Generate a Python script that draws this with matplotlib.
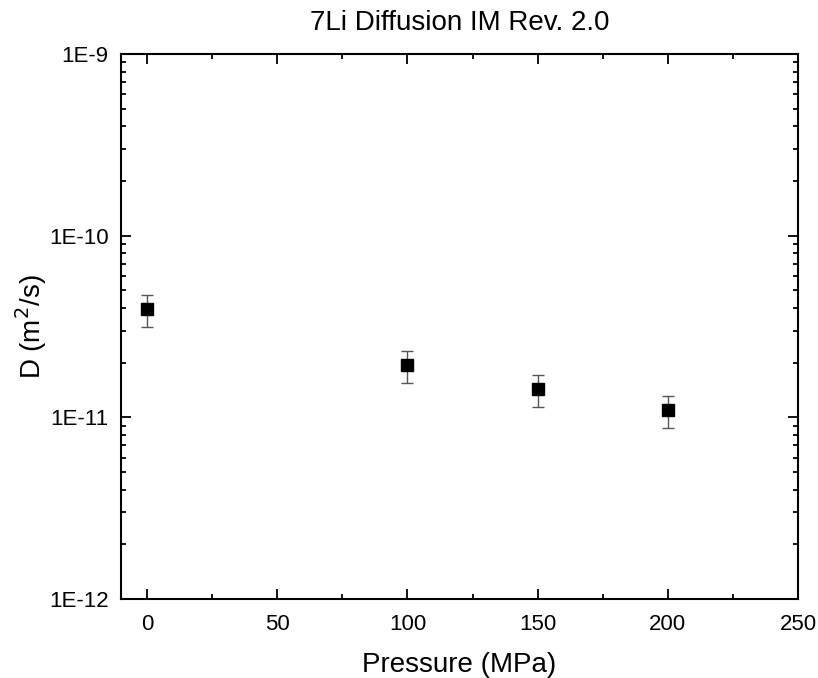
import matplotlib
matplotlib.use("Agg")
import matplotlib.pyplot as plt
from matplotlib.ticker import FixedLocator, LogLocator, NullFormatter, MultipleLocator

pressure = [0, 100, 150, 200]
D = [3.94e-11, 1.94e-11, 1.43e-11, 1.10e-11]
err_up = [4.72e-11, 2.33e-11, 1.71e-11, 1.31e-11]
err_lo = [3.13e-11, 1.54e-11, 1.14e-11, 0.877e-11]
ytick_vals = [1e-12, 1e-11, 1e-10, 1e-9]
ytick_labels = ["1E-12", "1E-11", "1E-10", "1E-9"]
xtick_vals = [0, 50, 100, 150, 200, 250]

plt.rcParams['font.family'] = ['Liberation Sans', 'DejaVu Sans']

fig = plt.figure(figsize=(8.18, 6.78), dpi=100)
ax = fig.add_axes([0.1479, 0.1165, 0.8277, 0.8039])

yerr = [[d - l for d, l in zip(D, err_lo)], [u - d for d, u in zip(D, err_up)]]
ax.errorbar(pressure, D, yerr=yerr, fmt='s', color='black', markersize=8.5,
            ecolor='#555555', elinewidth=1.0, capsize=4.3, capthick=1.0, zorder=3)

ax.set_yscale('log')
ax.set_xlim(-10, 250)
ax.set_ylim(1e-12, 1e-9)
ax.yaxis.set_major_locator(FixedLocator(ytick_vals))
ax.set_yticklabels(ytick_labels)
ax.yaxis.set_minor_locator(LogLocator(base=10, subs=range(2, 10)))
ax.yaxis.set_minor_formatter(NullFormatter())
ax.xaxis.set_major_locator(FixedLocator(xtick_vals))
ax.xaxis.set_minor_locator(MultipleLocator(25))

for s in ax.spines.values():
    s.set_linewidth(1.5)
ax.tick_params(which='both', direction='in', top=True, right=True, width=1.3, labelsize=16)
ax.tick_params(axis='x', which='major', pad=11)
ax.tick_params(axis='y', which='major', pad=9)
ax.tick_params(which='major', length=7)
ax.tick_params(which='minor', length=3.8)

ax.set_xlabel('Pressure (MPa)', fontsize=20, labelpad=12)
ax.set_ylabel('D (m$^2$/s)', fontsize=20, labelpad=0)
ax.set_title('7Li Diffusion IM Rev. 2.0', fontsize=20, pad=17)

fig.savefig('out.png', dpi=100)
